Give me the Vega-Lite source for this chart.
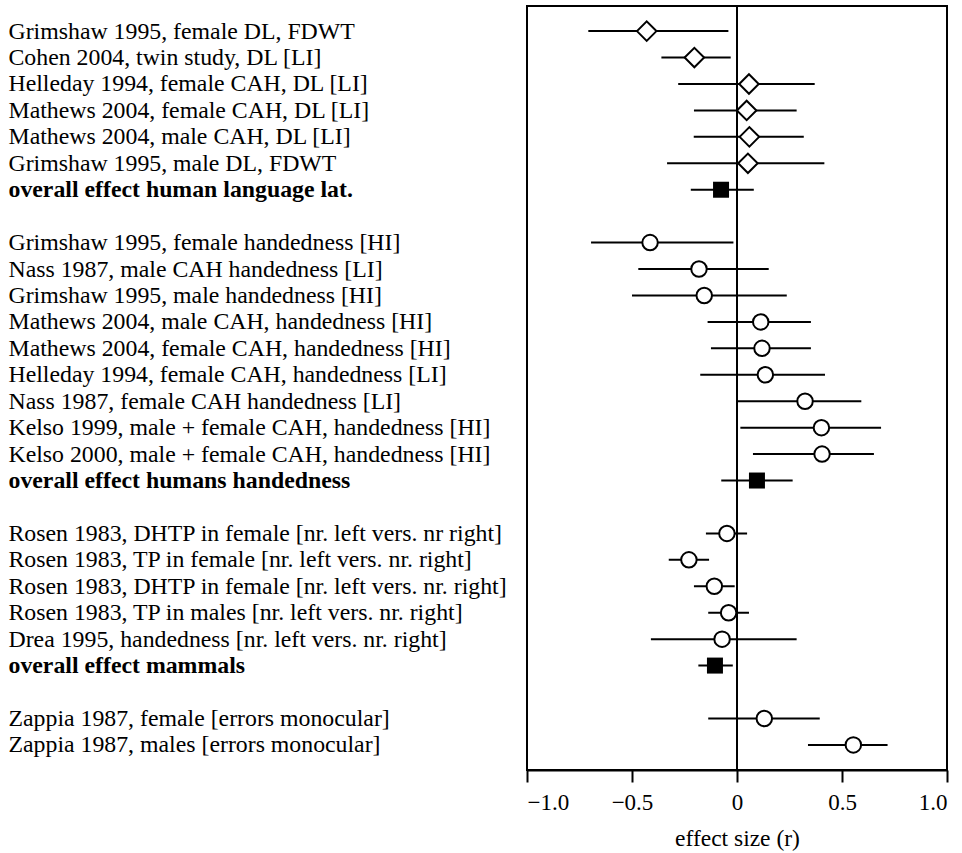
{
  "$schema": "https://vega.github.io/schema/vega-lite/v6.json",
  "autosize": {"type": "none"},
  "padding": {"left": 527, "top": 6, "right": 15, "bottom": 83},
  "width": 420,
  "height": 764,
  "background": "white",
  "config": {
    "font": "Liberation Serif",
    "view": {"stroke": "black", "strokeWidth": 2},
    "axis": {"labelColor": "black", "titleColor": "black", "grid": false, "labelFont": "Liberation Serif", "titleFont": "Liberation Serif"}
  },
  "data": {
    "values": [
      {"label": "Grimshaw 1995, female DL, FDWT", "est": -0.43, "lo": -0.708, "hi": -0.041, "kind": "diamond"},
      {"label": "Cohen 2004, twin study, DL [LI]", "est": -0.203, "lo": -0.36, "hi": -0.03, "kind": "diamond"},
      {"label": "Helleday 1994, female CAH, DL [LI]", "est": 0.057, "lo": -0.28, "hi": 0.37, "kind": "diamond"},
      {"label": "Mathews 2004, female CAH, DL [LI]", "est": 0.046, "lo": -0.205, "hi": 0.284, "kind": "diamond"},
      {"label": "Mathews 2004, male CAH, DL [LI]", "est": 0.059, "lo": -0.206, "hi": 0.318, "kind": "diamond"},
      {"label": "Grimshaw 1995, male DL, FDWT", "est": 0.052, "lo": -0.333, "hi": 0.416, "kind": "diamond"},
      {"label": "overall effect human language lat.", "est": -0.076, "lo": -0.22, "hi": 0.08, "kind": "square"},
      {"label": "Grimshaw 1995, female handedness [HI]", "est": -0.414, "lo": -0.695, "hi": -0.017, "kind": "circle"},
      {"label": "Nass 1987, male CAH handedness [LI]", "est": -0.181, "lo": -0.47, "hi": 0.151, "kind": "circle"},
      {"label": "Grimshaw 1995, male handedness [HI]", "est": -0.156, "lo": -0.5, "hi": 0.237, "kind": "circle"},
      {"label": "Mathews 2004, male CAH, handedness [HI]", "est": 0.113, "lo": -0.14, "hi": 0.352, "kind": "circle"},
      {"label": "Mathews 2004, female CAH, handedness [HI]", "est": 0.119, "lo": -0.124, "hi": 0.352, "kind": "circle"},
      {"label": "Helleday 1994, female CAH, handedness [LI]", "est": 0.135, "lo": -0.175, "hi": 0.419, "kind": "circle"},
      {"label": "Nass 1987, female CAH handedness [LI]", "est": 0.324, "lo": 0.003, "hi": 0.592, "kind": "circle"},
      {"label": "Kelso 1999, male + female CAH, handedness [HI]", "est": 0.402, "lo": 0.016, "hi": 0.686, "kind": "circle"},
      {"label": "Kelso 2000, male + female CAH, handedness [HI]", "est": 0.405, "lo": 0.076, "hi": 0.652, "kind": "circle"},
      {"label": "overall effect humans handedness", "est": 0.095, "lo": -0.075, "hi": 0.265, "kind": "square"},
      {"label": "Rosen 1983, DHTP in female [nr. left vers. nr right]", "est": -0.048, "lo": -0.148, "hi": 0.048, "kind": "circle"},
      {"label": "Rosen 1983, TP in female [nr. left vers. nr. right]", "est": -0.229, "lo": -0.325, "hi": -0.133, "kind": "circle"},
      {"label": "Rosen 1983, DHTP in female [nr. left vers. nr. right]", "est": -0.108, "lo": -0.205, "hi": -0.011, "kind": "circle"},
      {"label": "Rosen 1983, TP in males [nr. left vers. nr. right]", "est": -0.04, "lo": -0.137, "hi": 0.057, "kind": "circle"},
      {"label": "Drea 1995, handedness [nr. left vers. nr. right]", "est": -0.071, "lo": -0.41, "hi": 0.284, "kind": "circle"},
      {"label": "overall effect mammals", "est": -0.105, "lo": -0.184, "hi": -0.02, "kind": "square"},
      {"label": "Zappia 1987, female [errors monocular]", "est": 0.13, "lo": -0.137, "hi": 0.394, "kind": "circle"},
      {"label": "Zappia 1987, males [errors monocular]", "est": 0.554, "lo": 0.338, "hi": 0.717, "kind": "circle"}
    ]
  },
  "encoding": {
    "y": {
      "field": "label",
      "type": "nominal",
      "sort": null,
      "scale": {
        "type": "point",
        "padding": 0.95,
        "domain": [
          "Grimshaw 1995, female DL, FDWT",
          "Cohen 2004, twin study, DL [LI]",
          "Helleday 1994, female CAH, DL [LI]",
          "Mathews 2004, female CAH, DL [LI]",
          "Mathews 2004, male CAH, DL [LI]",
          "Grimshaw 1995, male DL, FDWT",
          "overall effect human language lat.",
          " ",
          "Grimshaw 1995, female handedness [HI]",
          "Nass 1987, male CAH handedness [LI]",
          "Grimshaw 1995, male handedness [HI]",
          "Mathews 2004, male CAH, handedness [HI]",
          "Mathews 2004, female CAH, handedness [HI]",
          "Helleday 1994, female CAH, handedness [LI]",
          "Nass 1987, female CAH handedness [LI]",
          "Kelso 1999, male + female CAH, handedness [HI]",
          "Kelso 2000, male + female CAH, handedness [HI]",
          "overall effect humans handedness",
          "  ",
          "Rosen 1983, DHTP in female [nr. left vers. nr right]",
          "Rosen 1983, TP in female [nr. left vers. nr. right]",
          "Rosen 1983, DHTP in female [nr. left vers. nr. right]",
          "Rosen 1983, TP in males [nr. left vers. nr. right]",
          "Drea 1995, handedness [nr. left vers. nr. right]",
          "overall effect mammals",
          "   ",
          "Zappia 1987, female [errors monocular]",
          "Zappia 1987, males [errors monocular]"
        ]
      },
      "axis": {
        "title": null,
        "domain": false,
        "ticks": false,
        "labelAlign": "left",
        "labelPadding": 519,
        "labelLimit": 0,
        "labelFontSize": 23.8,
        "labelFontWeight": {"condition": {"test": "indexof(datum.label, 'overall') === 0", "value": "bold"}, "value": "normal"}
      }
    }
  },
  "layer": [
    {
      "mark": {"type": "rule", "color": "black", "strokeWidth": 2},
      "encoding": {"x": {"datum": 0, "type": "quantitative"}, "y": null}
    },
    {
      "mark": {"type": "rule", "color": "black", "strokeWidth": 2},
      "encoding": {
        "x": {
          "field": "lo",
          "type": "quantitative",
          "scale": {"domain": [-1, 1], "nice": false, "zero": false},
          "axis": {
            "values": [-1, -0.5, 0, 0.5, 1],
            "labelExpr": "datum.value == 0 ? '0' : replace(format(datum.value, '.1f'), '-', '–')",
            "tickSize": 12,
            "tickWidth": 2,
            "tickColor": "black",
            "domainColor": "black",
            "domainWidth": 2,
            "labelFontSize": 23,
            "labelPadding": 9,
            "title": "effect size (r)",
            "titleFontSize": 23.5,
            "titleFontWeight": "normal",
            "titlePadding": 12
          }
        },
        "x2": {"field": "hi"}
      }
    },
    {
      "transform": [{"filter": "datum.kind === 'diamond'"}],
      "mark": {"type": "point", "shape": "diamond", "size": 380, "filled": true, "fill": "white", "stroke": "black", "strokeWidth": 2, "opacity": 1},
      "encoding": {"x": {"field": "est", "type": "quantitative"}}
    },
    {
      "transform": [{"filter": "datum.kind === 'circle'"}],
      "mark": {"type": "point", "shape": "circle", "size": 240, "filled": true, "fill": "white", "stroke": "black", "strokeWidth": 2, "opacity": 1},
      "encoding": {"x": {"field": "est", "type": "quantitative"}}
    },
    {
      "transform": [{"filter": "datum.kind === 'square'"}],
      "mark": {"type": "point", "shape": "square", "size": 256, "filled": true, "fill": "black", "strokeWidth": 0, "opacity": 1},
      "encoding": {"x": {"field": "est", "type": "quantitative"}}
    }
  ]
}
